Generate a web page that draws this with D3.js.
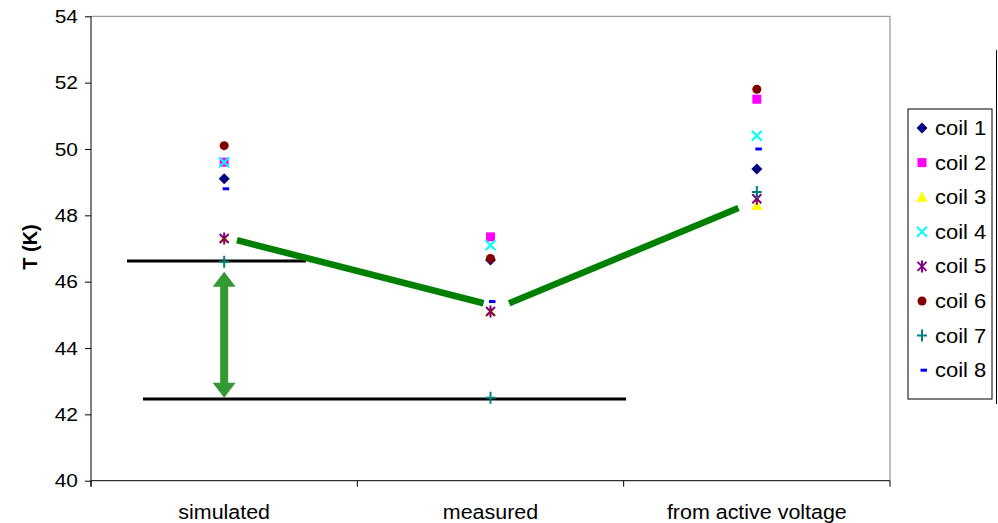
<!DOCTYPE html>
<html>
<head>
<meta charset="utf-8">
<script src="https://cdn.jsdelivr.net/npm/d3@7/dist/d3.min.js"></script>
<style>
  html, body { margin: 0; padding: 0; background: #fff; }
  svg { display: block; font-family: "Liberation Sans", Arial, sans-serif; }
</style>
</head>
<body>
<svg id="chart" width="998" height="523"></svg>
<script>
// Temperature per coil for each estimation method
const categories = ["simulated", "measured", "from active voltage"];
const coil1 = [49.1, 46.65, 49.4];
const coil2 = [49.6, 47.35, 51.5];
const coil3 = [47.3, 45.1, 48.3];
const coil4 = [49.6, 47.1, 50.4];
const coil5 = [47.3, 45.1, 48.5];
const coil6 = [50.1, 46.7, 51.8];
const coil7 = [46.6, 42.5, 48.7];
const coil8 = [48.8, 45.4, 50.0];
const seriesNames = ["coil 1", "coil 2", "coil 3", "coil 4", "coil 5", "coil 6", "coil 7", "coil 8"];
const yTicks = [40, 42, 44, 46, 48, 50, 52, 54];

// Annotations: trend segments (category index, value) and reference levels
const trendSegments = [
  [[0.048, 47.25], [0.974, 45.35]],
  [[1.07, 45.35], [1.931, 48.22]]
];
const refLevels = [
  { v: 46.62, from: -0.365, to: 0.307 },
  { v: 42.46, from: -0.305, to: 1.509 }
];
const gapArrow = { cat: 0, from: 42.5, to: 46.3 };

const series = [coil1, coil2, coil3, coil4, coil5, coil6, coil7, coil8];
const styles = [
  { shape: "diamond", color: "#000080" },
  { shape: "square", color: "#FF00FF" },
  { shape: "triangle", color: "#FFFF00" },
  { shape: "x", color: "#00FFFF" },
  { shape: "star", color: "#800080" },
  { shape: "circle", color: "#800000" },
  { shape: "plus", color: "#008080" },
  { shape: "dash", color: "#0000FF" }
];

const svg = d3.select("#chart");
const L = 91, R = 890, T = 16.3, B = 480.7;
const STRETCH = 1.1; // slightly wide lettering

const x = d3.scaleBand().domain(categories).range([L, R]).paddingInner(0).paddingOuter(0);
const y = d3.scaleLinear().domain([40, 54]).range([B, T]);
const step = x.bandwidth();
const cx0 = x(categories[0]) + step / 2;
const xi = d3.scaleLinear().domain([0, 1]).range([cx0, cx0 + step]);

// plot frame
svg.append("line").attr("x1", L).attr("x2", R).attr("y1", T).attr("y2", T)
  .attr("stroke", "#808080").attr("stroke-width", 1);
svg.append("line").attr("x1", R).attr("x2", R).attr("y1", T).attr("y2", B)
  .attr("stroke", "#808080").attr("stroke-width", 1);

// y axis
const yAxis = d3.axisLeft(y).tickValues(yTicks).tickSize(6).tickPadding(7).tickFormat(d3.format("d"));
const gy = svg.append("g").attr("transform", `translate(${L},0)`).call(yAxis);
gy.select(".domain").attr("stroke", "#000").attr("d", `M0,${T}V${B + 6}`);
gy.selectAll(".tick line").attr("stroke", "#000");
gy.selectAll(".tick text").attr("font-size", 19).attr("fill", "#000")
  .attr("font-family", "Liberation Sans, Arial, sans-serif")
  .attr("transform", `translate(-13,0) scale(${STRETCH},1)`)
  .attr("x", -0);

// x axis with ticks at category boundaries
const gx = svg.append("g").attr("transform", `translate(0,${B})`);
gx.append("line").attr("x1", L).attr("x2", R).attr("stroke", "#000");
const bounds = categories.map(c => x(c)).concat([R]);
gx.selectAll("line.tk").data(bounds).join("line").attr("class", "tk")
  .attr("x1", d => d).attr("x2", d => d).attr("y1", 0).attr("y2", 6).attr("stroke", "#000");
gx.selectAll("text").data(categories).join("text")
  .attr("transform", d => `translate(${x(d) + step / 2},38) scale(${STRETCH},1)`)
  .attr("text-anchor", "middle").attr("font-size", 19.5).attr("fill", "#000")
  .text(d => d);

// y title
svg.append("text")
  .attr("transform", `translate(37,247) rotate(-90)`)
  .attr("text-anchor", "middle").attr("font-size", 20).attr("font-weight", "bold")
  .text("T (K)");

// reference levels
svg.selectAll("line.ref").data(refLevels).join("line").attr("class", "ref")
  .attr("x1", d => xi(d.from)).attr("x2", d => xi(d.to))
  .attr("y1", d => y(d.v)).attr("y2", d => y(d.v))
  .attr("stroke", "#000").attr("stroke-width", 3);

// marker shapes
function markerPath(shape) {
  switch (shape) {
    case "diamond": return "M0,-5.5L5.5,0L0,5.5L-5.5,0Z";
    case "square": return "M-4.5,-4.5H4.5V4.5H-4.5Z";
    case "triangle": return "M0,-6L5.5,4.5H-5.5Z";
    case "circle": return d3.symbol(d3.symbolCircle, 64)();
    case "x": return "M-5,-5L5,5M5,-5L-5,5";
    case "star": return "M-4.5,-4.5L4.5,4.5M4.5,-4.5L-4.5,4.5M0,-6V6";
    case "plus": return "M-5,0H5M0,-6V6";
    case "dash": return "M-1.5,-1.5H5V1.5H-1.5Z";
  }
}
function drawMarker(g, st) {
  const p = g.append("path").attr("d", markerPath(st.shape));
  if (["x", "star", "plus"].includes(st.shape)) {
    p.attr("fill", "none").attr("stroke", st.color).attr("stroke-width", 2);
  } else {
    p.attr("fill", st.color).attr("stroke", "none");
  }
}

// data points, drawn in series order
series.forEach((vals, si) => {
  const g = svg.append("g").attr("class", "series");
  vals.forEach((v, ci) => {
    const m = g.append("g").attr("transform", `translate(${x(categories[ci]) + step / 2},${y(v)})`);
    drawMarker(m, styles[si]);
  });
});

// trend segments
svg.selectAll("line.trend").data(trendSegments).join("line").attr("class", "trend")
  .attr("x1", d => xi(d[0][0])).attr("y1", d => y(d[0][1]))
  .attr("x2", d => xi(d[1][0])).attr("y2", d => y(d[1][1]))
  .attr("stroke", "#008000").attr("stroke-width", 6.5);

// double-headed arrow spanning the offset
{
  const ax = xi(gapArrow.cat), yTop = y(gapArrow.to), yBot = y(gapArrow.from);
  const hw = 11.5, hl = 15, sw = 4;
  const d = `M${ax},${yTop}L${ax + hw},${yTop + hl}H${ax + sw}V${yBot - hl}H${ax + hw}` +
            `L${ax},${yBot}L${ax - hw},${yBot - hl}H${ax - sw}V${yTop + hl}H${ax - hw}Z`;
  svg.append("path").attr("d", d).attr("fill", "#339933");
}

// legend
const lg = svg.append("g");
lg.append("rect").attr("x", 908).attr("y", 109).attr("width", 84).attr("height", 290)
  .attr("fill", "#fff").attr("stroke", "#000").attr("stroke-width", 1);
seriesNames.forEach((name, i) => {
  const yy = 128 + i * 34.6;
  const m = lg.append("g").attr("transform", `translate(922,${yy})`);
  drawMarker(m, styles[i]);
  lg.append("text").attr("transform", `translate(935,${yy}) scale(${STRETCH},1)`).attr("dy", "0.35em")
    .attr("font-size", 20).attr("fill", "#000").text(name);
});
svg.append("line").attr("x1", 996.5).attr("x2", 996.5).attr("y1", 50).attr("y2", 404)
  .attr("stroke", "#000").attr("stroke-width", 1);
</script>
</body>
</html>
